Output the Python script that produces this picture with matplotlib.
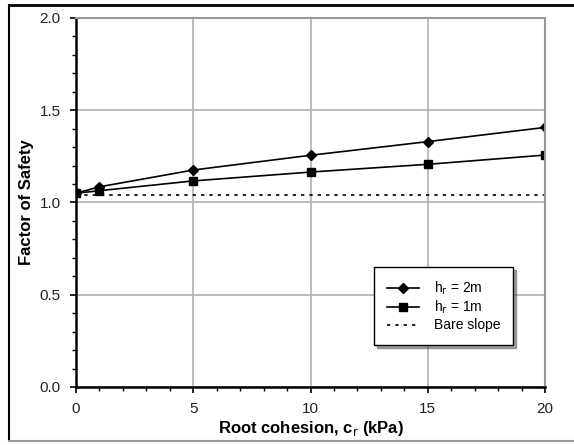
import numpy as np
import matplotlib
matplotlib.use("Agg")
from matplotlib import pyplot as plt
from matplotlib.lines import Line2D
from matplotlib.ticker import MultipleLocator

plt.rcParams['font.family'] = ['Liberation Sans', 'DejaVu Sans']

# data
cohesion = [0, 1, 5, 10, 15, 20]
fs_h2 = [1.05, 1.085, 1.176, 1.256, 1.33, 1.407]
fs_h1 = [1.05, 1.064, 1.117, 1.165, 1.207, 1.257]
fs_bare = 1.04
x_ticks = [0, 5, 10, 15, 20]
y_ticks = [0.0, 0.5, 1.0, 1.5, 2.0]

fig = plt.figure(figsize=(5.74, 4.45), dpi=100)
ax = fig.add_axes([76 / 574, 1 - 387 / 445, (545 - 76) / 574, (387 - 18) / 445])

# outer frame of the figure
fig.add_artist(Line2D([9 / 574, 9 / 574], [1 - 440 / 445, 1 - 5 / 445], color="black", lw=1.5))
fig.add_artist(Line2D([9 / 574, 1], [1 - 5 / 445, 1 - 5 / 445], color="black", lw=2))
fig.add_artist(Line2D([9 / 574, 1], [1 - 441 / 445, 1 - 441 / 445], color="#999999", lw=1.5))

ax.plot(cohesion, fs_h2, color="black", lw=1.2, marker="D", ms=5, label=r"h$_\mathrm{r}$ = 2m")
ax.plot(cohesion, fs_h1, color="black", lw=1.2, marker="s", ms=6, label=r"h$_\mathrm{r}$ = 1m")
ax.axhline(fs_bare, color="black", lw=1.2, ls=(0, (2, 3)), label="Bare slope")

ax.set_xlim(0, 20)
ax.set_ylim(0, 2.0)
ax.set_xticks(x_ticks)
ax.set_yticks(y_ticks)
ax.set_yticklabels(["%.1f" % v for v in y_ticks])
ax.xaxis.set_minor_locator(MultipleLocator(1))
ax.yaxis.set_minor_locator(MultipleLocator(0.1))
ax.tick_params(which="major", length=4, width=1.2, labelsize=11, pad=7,
               labelcolor="#222222")
ax.tick_params(which="minor", length=3, width=1.0)

ax.grid(True, which="major", color="#b0b0b0", lw=1.2)
ax.set_axisbelow(True)
ax.spines["left"].set_linewidth(1.8)
ax.spines["bottom"].set_linewidth(1.8)
ax.spines["top"].set_color("#999999")
ax.spines["right"].set_color("#999999")
ax.spines["top"].set_linewidth(1.5)
ax.spines["right"].set_linewidth(1.5)

ax.set_xlabel(r"Root cohesion, c$_\mathrm{r}$ (kPa)", fontsize=12, fontweight="bold")
ax.set_ylabel("Factor of Safety", fontsize=12, fontweight="bold")
ax.xaxis.set_label_coords(0.5, -0.113, transform=ax.transAxes)
ax.yaxis.set_label_coords(-0.1045, 0.5, transform=ax.transAxes)
ax.xaxis.label.set_va("center")
ax.yaxis.label.set_va("center")

leg = ax.legend(loc="lower right", bbox_to_anchor=(0.932, 0.114), fontsize=10,
                shadow=True, fancybox=False, edgecolor="black", framealpha=1,
                handlelength=2.3, borderpad=0.9, labelspacing=0.15, handletextpad=1.1,
                borderaxespad=0)
leg.get_frame().set_linewidth(1.0)

fig.savefig("out.png", dpi=100)
